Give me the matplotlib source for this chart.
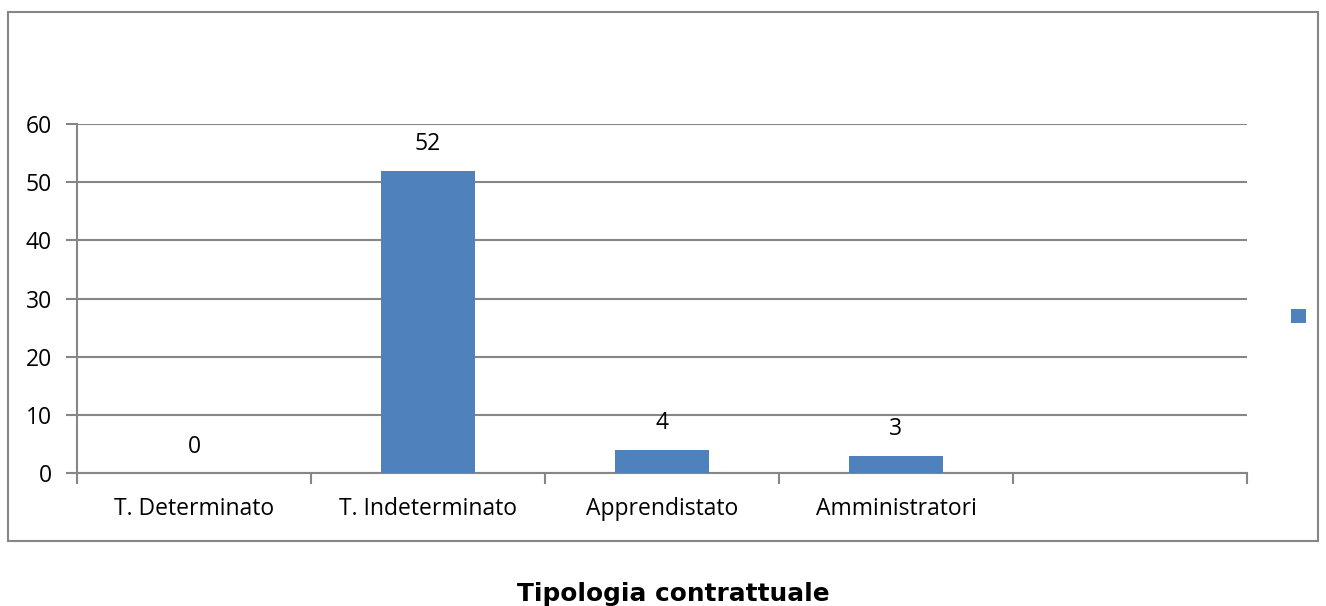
import matplotlib.pyplot as plt
from matplotlib.patches import Rectangle

# dati
categorie = ['T. Determinato', 'T. Indeterminato', 'Apprendistato', 'Amministratori', '']
valori = [0, 52, 4, 3, 0]
titolo = 'Tipologia contrattuale'

W, H = 1326, 606
fig = plt.figure(figsize=(W / 100, H / 100), dpi=100)
fig.patch.set_facecolor('white')

grigio = '#868686'
blu = '#4F81BD'
plt.rcParams['font.family'] = ['Open Sans', 'DejaVu Sans']
fs = 16.5

# area del grafico
ax = fig.add_axes([77 / W, 1 - 473 / H, (1247 - 77) / W, (473 - 124) / H])
x = list(range(len(categorie)))
bars = ax.bar(x[:4], valori[:4], width=0.4, color=blu, zorder=3)

ax.set_xlim(-0.5, len(categorie) - 0.5)
ax.set_ylim(0, 60)
ax.set_yticks(range(0, 61, 10))
ax.yaxis.grid(True, color=grigio, linewidth=1.5, zorder=0)
ax.tick_params(axis='y', length=8, width=1.5, color=grigio, labelsize=fs, pad=10)
ax.set_xticks(x)
ax.set_xticklabels(categorie, fontsize=fs)
ax.set_xticks([i - 0.5 for i in range(len(categorie) + 1)], minor=True)
ax.tick_params(axis='x', which='major', length=0, pad=17)
ax.tick_params(axis='x', which='minor', length=8, width=1.5, color=grigio)

for s in ['top', 'right']:
    ax.spines[s].set_visible(False)
for s in ['left', 'bottom']:
    ax.spines[s].set_color(grigio)
    ax.spines[s].set_linewidth(1.5)

# etichette dei valori
for i, v in enumerate(valori[:4]):
    ax.annotate(str(v), (i, v), xytext=(0, 19), textcoords='offset points',
                ha='center', va='center', fontsize=fs)

# legenda (solo il quadratino)
ax.legend(handles=[bars], labels=[''], loc='center left',
          bbox_to_anchor=(1.027, 0.447), frameon=False, handlelength=1.1,
          handleheight=1.1, handletextpad=0)

# cornice esterna
fig.add_artist(Rectangle((8 / W, 1 - 541 / H), (1318 - 8) / W, (541 - 12) / H,
                         transform=fig.transFigure, fill=False,
                         edgecolor=grigio, linewidth=1.5))

fig.text(673 / W, 1 - 582 / H, titolo, ha='center', va='top',
         fontsize=17.8, fontweight='bold', family='DejaVu Sans')

fig.savefig('out.png', dpi=100)
